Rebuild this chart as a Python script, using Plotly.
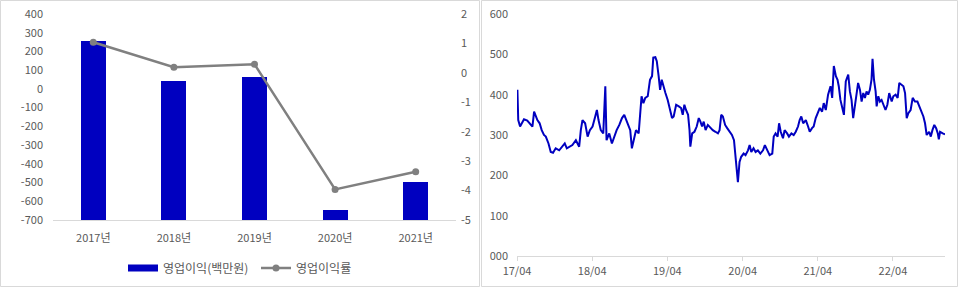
import plotly.graph_objects as go

# ---------------- data ----------------
years = ["2017년", "2018년", "2019년", "2020년", "2021년"]
op_profit = [257, 42, 64, -647, -498]          # 영업이익(백만원)
op_margin = [1.04, 0.19, 0.29, -3.96, -3.36]   # 영업이익률

price_dates = [
    "2017-04-03", "2017-04-07", "2017-04-16", "2017-04-24", "2017-05-05", "2017-05-21", "2017-06-07", "2017-06-15",
    "2017-06-23", "2017-07-01", "2017-07-09", "2017-07-20", "2017-07-30", "2017-08-10", "2017-08-19", "2017-09-01",
    "2017-09-12", "2017-09-23", "2017-10-06", "2017-10-23", "2017-11-08", "2017-11-19", "2017-11-29", "2017-12-10",
    "2017-12-26", "2018-01-12", "2018-01-28", "2018-02-05", "2018-02-13", "2018-02-26", "2018-03-10", "2018-03-21",
    "2018-04-03", "2018-04-16", "2018-04-24", "2018-05-02", "2018-05-13", "2018-05-25", "2018-06-04", "2018-06-10",
    "2018-06-23", "2018-07-06", "2018-07-17", "2018-07-29", "2018-08-11", "2018-08-24", "2018-09-04", "2018-09-15",
    "2018-09-25", "2018-10-03", "2018-10-11", "2018-10-20", "2018-10-31", "2018-11-13", "2018-11-19", "2018-11-27",
    "2018-12-06", "2018-12-15", "2018-12-27", "2019-01-07", "2019-01-17", "2019-01-23", "2019-02-02", "2019-02-09",
    "2019-02-18", "2019-02-25", "2019-03-05", "2019-03-15", "2019-03-23", "2019-04-03", "2019-04-11", "2019-04-24",
    "2019-05-02", "2019-05-14", "2019-05-27", "2019-06-07", "2019-06-15", "2019-06-23", "2019-07-01", "2019-07-11",
    "2019-07-18", "2019-07-22", "2019-07-31", "2019-08-11", "2019-08-22", "2019-09-01", "2019-09-09", "2019-09-17",
    "2019-09-25", "2019-10-04", "2019-10-15", "2019-10-28", "2019-11-08", "2019-11-21", "2019-12-03", "2019-12-11",
    "2019-12-19", "2019-12-27", "2020-01-07", "2020-01-17", "2020-01-28", "2020-02-09", "2020-02-19", "2020-02-27",
    "2020-03-04", "2020-03-09", "2020-03-17", "2020-03-25", "2020-04-06", "2020-04-15", "2020-04-27", "2020-05-05",
    "2020-05-13", "2020-05-24", "2020-06-03", "2020-06-14", "2020-06-26", "2020-07-09", "2020-07-18", "2020-07-28",
    "2020-08-10", "2020-08-23", "2020-08-30", "2020-09-08", "2020-09-18", "2020-09-25", "2020-10-03", "2020-10-14",
    "2020-10-22", "2020-11-03", "2020-11-12", "2020-11-24", "2020-12-05", "2020-12-15", "2020-12-26", "2021-01-03",
    "2021-01-11", "2021-01-20", "2021-02-02", "2021-02-13", "2021-02-21", "2021-03-04", "2021-03-12", "2021-03-22",
    "2021-03-30", "2021-04-11", "2021-04-22", "2021-04-30", "2021-05-10", "2021-05-21", "2021-06-02", "2021-06-10",
    "2021-06-18", "2021-06-28", "2021-07-06", "2021-07-12", "2021-07-20", "2021-07-29", "2021-08-06", "2021-08-15",
    "2021-08-27", "2021-09-04", "2021-09-12", "2021-09-20", "2021-09-28", "2021-10-06", "2021-10-14", "2021-10-23",
    "2021-10-31", "2021-11-08", "2021-11-16", "2021-11-24", "2021-12-02", "2021-12-10", "2021-12-18", "2021-12-23",
    "2021-12-30", "2022-01-07", "2022-01-12", "2022-01-20", "2022-01-28", "2022-02-05", "2022-02-13", "2022-02-24",
    "2022-03-05", "2022-03-14", "2022-03-26", "2022-04-03", "2022-04-14", "2022-04-24", "2022-05-02", "2022-05-10",
    "2022-05-22", "2022-05-30", "2022-06-07", "2022-06-15", "2022-06-26", "2022-07-06", "2022-07-17", "2022-07-29",
    "2022-08-07", "2022-08-19", "2022-08-27", "2022-09-04", "2022-09-12", "2022-09-24", "2022-10-02", "2022-10-10",
    "2022-10-19", "2022-10-28", "2022-11-05", "2022-11-10", "2022-11-16", "2022-11-29", "2022-12-10",
]
price_values = [
    412, 337, 321, 329, 339, 336, 325, 321,
    358, 346, 337, 329, 312, 300, 296, 279,
    258, 256, 267, 262, 271, 279, 267, 271,
    275, 287, 271, 312, 337, 329, 296, 312,
    321, 346, 362, 337, 312, 304, 421, 287,
    304, 279, 296, 312, 325, 342, 350, 337,
    321, 312, 267, 287, 312, 304, 354, 396,
    379, 392, 396, 437, 446, 492, 493, 483,
    446, 412, 437, 417, 404, 387, 371, 342,
    346, 375, 371, 367, 350, 375, 362, 350,
    312, 271, 304, 308, 321, 342, 333, 321,
    333, 312, 325, 317, 312, 308, 304, 312,
    350, 346, 325, 317, 308, 300, 287, 242,
    212, 183, 233, 246, 254, 250, 262, 275,
    258, 267, 258, 262, 254, 262, 275, 262,
    250, 254, 296, 304, 296, 329, 308, 292,
    312, 304, 296, 304, 300, 308, 321, 337,
    346, 329, 337, 321, 308, 317, 321, 342,
    354, 367, 358, 379, 362, 400, 421, 392,
    471, 446, 437, 421, 387, 371, 350, 433,
    450, 408, 387, 342, 371, 396, 429, 412,
    383, 404, 392, 408, 400, 412, 437, 489,
    437, 408, 371, 396, 383, 387, 375, 362,
    375, 404, 383, 396, 400, 392, 429, 425,
    421, 404, 342, 354, 362, 392, 383, 383,
    371, 358, 346, 329, 300, 308, 296, 312,
    325, 317, 304, 289, 308, 304, 302,
]

price_axis_start = "2017-04-01"
price_ticks = ["2017-04-01", "2018-04-01", "2019-04-01", "2020-04-01", "2021-04-01", "2022-04-01"]
price_ticktext = ["17/04", "18/04", "19/04", "20/04", "21/04", "22/04"]
price_yticks = [0, 100, 200, 300, 400, 500, 600]
price_yticktext = ["000", "100", "200", "300", "400", "500", "600"]

# ---------------- style ----------------
W, H = 960, 288
FONT = "Noto Sans CJK KR, Malgun Gothic, sans-serif"
TXT = "#595959"
AX = "#D9D9D9"
BLUE = "#0000C0"
GREY = "#808080"
Y1_MIN, Y1_MAX, Y1_STEP = -700, 400, 100
Y2_MIN, Y2_MAX, Y2_STEP = -5, 2, 1

y1_ticks = list(range(Y1_MIN, Y1_MAX + 1, Y1_STEP))
y2_ticks = list(range(Y2_MIN, Y2_MAX + 1, Y2_STEP))


def px_x(v):
    return v / W


def px_y(v):
    return 1 - v / H


fig = go.Figure()

fig.add_trace(go.Bar(
    x=years, y=[v - Y1_MIN for v in op_profit], base=Y1_MIN,
    name="영업이익(백만원)", marker=dict(color=BLUE, line=dict(width=0)),
    width=0.31, xaxis="x", yaxis="y", showlegend=False,
    customdata=op_profit, hovertemplate="%{x}: %{customdata}<extra></extra>",
))
# legend entry for the bars (wide flat swatch like the original)
fig.add_trace(go.Scatter(
    x=[None], y=[None], mode="lines", name="영업이익(백만원)",
    line=dict(color=BLUE, width=7), xaxis="x", yaxis="y",
))
fig.add_trace(go.Scatter(
    x=years, y=op_margin, name="영업이익률", mode="lines+markers",
    line=dict(color=GREY, width=2.5), marker=dict(color=GREY, size=7),
    xaxis="x", yaxis="y2",
))
fig.add_trace(go.Scatter(
    x=price_dates, y=price_values, mode="lines", showlegend=False,
    line=dict(color=BLUE, width=2), xaxis="x2", yaxis="y3",
))

tickfont = dict(family=FONT, size=11, color=TXT)

fig.update_layout(
    template="none",
    width=W, height=H, margin=dict(l=0, r=0, t=0, b=0, pad=0),
    paper_bgcolor="white", plot_bgcolor="white",
    font=dict(family=FONT, size=11, color=TXT),
    bargap=0,
    hovermode="closest",
    xaxis=dict(
        domain=[px_x(53), px_x(456)], anchor="y", type="category",
        range=[-0.5, len(years) - 0.5], automargin=False,
        showline=True, linecolor=AX, linewidth=1, ticks="", showgrid=False,
        zeroline=False, tickfont=tickfont, ticklabelstandoff=8,
    ),
    yaxis=dict(
        domain=[px_y(220), px_y(14)], anchor="x", automargin=False,
        range=[Y1_MIN, Y1_MAX], tickvals=y1_ticks, ticktext=[str(v) for v in y1_ticks],
        showgrid=False, zeroline=False, showline=False, ticks="",
        tickfont=tickfont, ticklabelstandoff=9,
    ),
    yaxis2=dict(
        overlaying="y", anchor="x", side="right", automargin=False,
        range=[Y2_MIN, Y2_MAX], tickvals=y2_ticks, ticktext=[str(v) for v in y2_ticks],
        showgrid=False, zeroline=False, showline=False, ticks="",
        tickfont=tickfont, ticklabelstandoff=4,
    ),
    xaxis2=dict(
        domain=[px_x(517), px_x(945)], anchor="y3", type="date", automargin=False,
        range=[price_axis_start, price_dates[-1]],
        tickvals=price_ticks, ticktext=price_ticktext,
        showline=True, linecolor=AX, linewidth=1, zeroline=False,
        ticks="outside", ticklen=4, tickcolor=AX, showgrid=False,
        tickfont=tickfont, ticklabelstandoff=1,
    ),
    yaxis3=dict(
        domain=[px_y(256), px_y(14)], anchor="x2", automargin=False,
        range=[0, 600], tickvals=price_yticks, ticktext=price_yticktext,
        showgrid=False, zeroline=False, showline=False, ticks="",
        tickfont=tickfont, ticklabelstandoff=8,
    ),
    legend=dict(
        orientation="h", x=px_x(123), y=px_y(268), xanchor="left", yanchor="middle",
        font=dict(family=FONT, size=12, color=TXT), bgcolor="rgba(0,0,0,0)",
        entrywidth=88, entrywidthmode="pixels", tracegroupgap=0,
    ),
    shapes=[
        dict(type="rect", xref="paper", yref="paper",
             x0=px_x(0.5), x1=px_x(479.5), y0=px_y(286.5), y1=px_y(0.5),
             line=dict(color=AX, width=1), fillcolor="rgba(0,0,0,0)", layer="below"),
        dict(type="rect", xref="paper", yref="paper",
             x0=px_x(481.5), x1=px_x(957.5), y0=px_y(286.5), y1=px_y(0.5),
             line=dict(color=AX, width=1), fillcolor="rgba(0,0,0,0)", layer="below"),
    ],
)

fig.write_html("out.html")
